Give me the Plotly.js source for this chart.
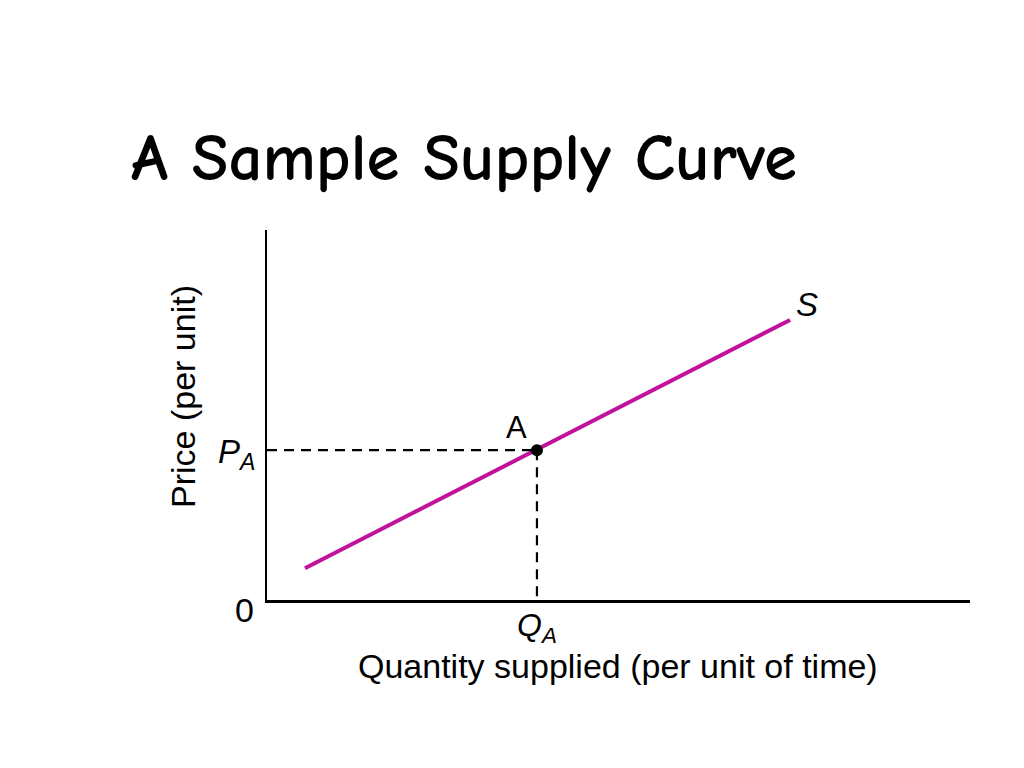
<!DOCTYPE html>
<html>
<head>
<meta charset="utf-8">
<script src="https://cdn.plot.ly/plotly-3.0.1.min.js"></script>
<style>html,body{margin:0;padding:0;background:#fff;}#chart{width:1024px;height:768px;}</style>
</head>
<body>
<div id="chart"></div>
<script>
// Supply curve endpoints (quantity, price) in plot units
const supplyQ = [5.4, 74.4];
const supplyP = [8.6, 75.7];
// Point A
const pointQ = [38.4];
const pointP = [40.5];
const pointLabel = ["A"];
const curveLabel = "S";
const xTitle = "Quantity supplied (per unit of time)";
const yTitle = "Price (per unit)";
const chartTitle = "A Sample Supply Curve";

const sans = "Liberation Sans, Arial, sans-serif";

const traces = [
  { x: supplyQ, y: supplyP, mode: "lines", line: {color: "#C2129C", width: 4}, hoverinfo: "skip" },
  { x: [0, pointQ[0]], y: [pointP[0], pointP[0]], mode: "lines", line: {color: "#000", width: 2.2, dash: "10px,7px"}, hoverinfo: "skip" },
  { x: [pointQ[0], pointQ[0]], y: [pointP[0], 0], mode: "lines", line: {color: "#000", width: 2.2, dash: "10px,7px"}, hoverinfo: "skip" },
  { x: pointQ, y: pointP, mode: "markers", marker: {color: "#000", size: 12}, hoverinfo: "skip" }
];

const layout = {
  width: 1024, height: 768,
  margin: {l: 267, r: 54, t: 230, b: 168},
  paper_bgcolor: "#fff", plot_bgcolor: "#fff",
  showlegend: false,
  title: {text: "<b>" + chartTitle + "</b>", x: 131/1024, xanchor: "left", y: 1 - 157/768, yanchor: "middle",
          font: {family: "Comic Sans MS, Comic Neue, DejaVu Sans, sans-serif", size: 67, color: "#000"}},
  xaxis: {range: [0, 100], showgrid: false, zeroline: false, showticklabels: false, ticks: "",
          showline: true, linecolor: "#000", linewidth: 2.5, fixedrange: true},
  yaxis: {range: [0, 100], showgrid: false, zeroline: false, showticklabels: false, ticks: "",
          showline: true, linecolor: "#000", linewidth: 2.5, fixedrange: true},
  annotations: [
    {x: supplyQ[1], y: supplyP[1], xref: "x", yref: "y", text: "<i>" + curveLabel + "</i>", showarrow: false,
     xanchor: "left", yanchor: "middle", xshift: 4, yshift: 15, font: {family: sans, size: 33, color: "#000"}},
    {x: pointQ[0], y: pointP[0], xref: "x", yref: "y", text: pointLabel[0], showarrow: false,
     xanchor: "center", yanchor: "middle", xshift: -20, yshift: 23, font: {family: sans, size: 31, color: "#000"}},
    {x: 0, y: pointP[0], xref: "x", yref: "y", text: "<i>P</i><sub><i>A</i></sub>", showarrow: false,
     xanchor: "right", yanchor: "middle", xshift: -10, yshift: -4, font: {family: sans, size: 33, color: "#000"}},
    {x: 0, y: 0, xref: "x", yref: "y", text: "0", showarrow: false,
     xanchor: "center", yanchor: "middle", xshift: -23, yshift: -10, font: {family: sans, size: 34, color: "#000"}},
    {x: pointQ[0], y: 0, xref: "x", yref: "y", text: "<i>Q</i><sub><i>A</i></sub>", showarrow: false,
     xanchor: "center", yanchor: "middle", xshift: 0, yshift: -27, font: {family: sans, size: 32, color: "#000"}},
    {x: (618-267)/703, y: (600-666)/370, xref: "paper", yref: "paper", text: xTitle, showarrow: false,
     xanchor: "center", yanchor: "middle", font: {family: sans, size: 34, color: "#000"}},
    {x: (183-267)/703, y: (600-397)/370, xref: "paper", yref: "paper", text: yTitle, showarrow: false, textangle: -90,
     xanchor: "center", yanchor: "middle", font: {family: sans, size: 34, color: "#000"}}
  ]
};

Plotly.newPlot("chart", traces, layout, {staticPlot: true, displayModeBar: false});
</script>
</body>
</html>
